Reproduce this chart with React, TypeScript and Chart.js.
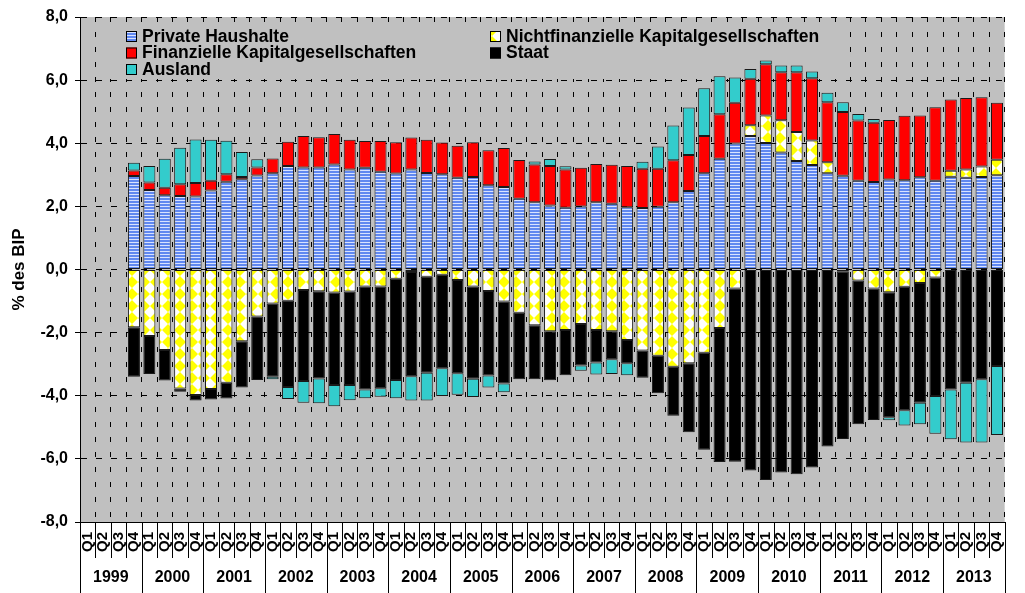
import React, { useEffect, useRef } from 'react';
import { Chart, registerables } from 'chart.js';

Chart.register(...registerables);

const years = ['1999', '2000', '2001', '2002', '2003', '2004', '2005', '2006', '2007', '2008', '2009', '2010', '2011', '2012', '2013'];
const quarters = ['Q1', 'Q2', 'Q3', 'Q4'];
const labels = years.flatMap(() => quarters);

const privateHaushalte = [
  null, null, null, 2.96,
  2.52, 2.35, 2.33, 2.31,
  2.50, 2.78, 2.86, 2.98,
  3.05, 3.28, 3.23, 3.23,
  3.33, 3.17, 3.22, 3.10,
  3.04, 3.17, 3.06, 3.02,
  2.91, 2.93, 2.67, 2.61,
  2.24, 2.13, 2.03, 1.96,
  2.00, 2.13, 2.08, 1.97,
  1.95, 1.99, 2.13, 2.49,
  3.05, 3.51, 3.99, 4.23,
  4.01, 3.71, 3.44, 3.31,
  3.05, 2.97, 2.81, 2.77,
  2.85, 2.83, 2.92, 2.81,
  2.94, 2.91, 2.93, 2.99,
];

const nichtfinanzielle = [
  null, null, null, -1.83,
  -2.11, -2.55, -3.77, -3.98,
  -3.79, -3.59, -2.27, -1.49,
  -1.08, -0.99, -0.65, -0.69,
  -0.73, -0.70, -0.54, -0.54,
  -0.29, -0.08, -0.23, -0.17,
  -0.33, -0.54, -0.68, -1.01,
  -1.37, -1.77, -1.96, -1.92,
  -1.73, -1.92, -1.96, -2.23,
  -2.57, -2.73, -3.08, -2.97,
  -2.64, -1.85, -0.60, 0.34,
  0.87, 1.02, 0.92, 0.78,
  0.35, -0.07, -0.35, -0.60,
  -0.72, -0.55, -0.43, -0.25,
  0.19, 0.26, 0.33, 0.49,
];

const finanzielle = [
  null, null, null, 0.18,
  0.24, 0.24, 0.37, 0.43,
  0.31, 0.24, 0.07, 0.25,
  0.47, 0.77, 1.00, 0.96,
  0.96, 0.94, 0.85, 0.97,
  0.99, 1.01, 1.05, 1.00,
  1.01, 1.10, 1.11, 1.24,
  1.23, 1.20, 1.25, 1.21,
  1.22, 1.21, 1.24, 1.31,
  1.24, 1.20, 1.33, 1.14,
  1.18, 1.41, 1.29, 1.47,
  1.62, 1.52, 1.89, 1.97,
  1.90, 2.02, 1.91, 1.88,
  1.89, 2.04, 1.96, 2.33,
  2.26, 2.26, 2.20, 1.80,
];

const staat = [
  null, null, null, -1.57,
  -1.20, -0.97, -0.10, -0.17,
  -0.33, -0.50, -1.47, -2.01,
  -2.32, -2.73, -2.88, -2.76,
  -2.93, -2.96, -3.26, -3.22,
  -3.21, -3.30, -3.04, -2.96,
  -2.96, -2.92, -2.68, -2.60,
  -2.11, -1.71, -1.55, -1.43,
  -1.31, -1.03, -0.88, -0.74,
  -0.86, -1.19, -1.55, -2.19,
  -3.07, -4.25, -5.49, -6.37,
  -6.67, -6.43, -6.49, -6.27,
  -5.61, -5.30, -4.55, -4.17,
  -3.96, -3.91, -3.79, -3.76,
  -3.80, -3.59, -3.48, -3.06,
];

const ausland = [
  null, null, null, 0.24,
  0.52, 0.92, 1.16, 1.38,
  1.30, 1.06, 0.79, 0.26,
  -0.08, -0.38, -0.69, -0.79,
  -0.67, -0.48, -0.28, -0.27,
  -0.58, -0.77, -0.88, -0.88,
  -0.68, -0.58, -0.38, -0.28,
  0, 0.09, 0.22, 0.10,
  -0.17, -0.38, -0.47, -0.38,
  0.22, 0.71, 1.10, 1.50,
  1.51, 1.20, 0.80, 0.31,
  0.12, 0.21, 0.21, 0.21,
  0.30, 0.31, 0.21, 0.12,
  -0.10, -0.48, -0.68, -1.19,
  -1.58, -1.89, -2.00, -2.18,
];

const yTickValues = [-8, -6, -4, -2, 0, 2, 4, 6, 8];

const FONT = '"Liberation Sans", Arial, Helvetica, sans-serif';

function makeStripePattern(): CanvasPattern | string {
  const c = document.createElement('canvas');
  c.width = 4;
  c.height = 3;
  const g = c.getContext('2d');
  if (!g) return '#6A8CF0';
  g.fillStyle = '#6088F0';
  g.fillRect(0, 0, 4, 2);
  g.fillStyle = '#D8E2FF';
  g.fillRect(0, 2, 4, 1);
  return g.createPattern(c, 'repeat') || '#6A8CF0';
}

function makeZigzagPattern(): CanvasPattern | string {
  const c = document.createElement('canvas');
  c.width = 12;
  c.height = 12;
  const g = c.getContext('2d');
  if (!g) return '#FFFF00';
  g.fillStyle = '#FFFFFF';
  g.fillRect(0, 0, 12, 12);
  g.fillStyle = '#FFFF00';
  g.beginPath();
  g.moveTo(0, 0); g.lineTo(6, 6); g.lineTo(0, 12); g.closePath();
  g.moveTo(12, 0); g.lineTo(6, 6); g.lineTo(12, 12); g.closePath();
  g.fill();
  return g.createPattern(c, 'repeat') || '#FFFF00';
}

export default function App() {
  const canvasRef = useRef<HTMLCanvasElement | null>(null);

  useEffect(() => {
    const canvas = canvasRef.current;
    if (!canvas) return;
    const stripe = makeStripePattern();
    const zigzag = makeZigzagPattern();

    const legendEntries = [
      { text: 'Private Haushalte', fill: stripe, col: 0, row: 0 },
      { text: 'Nichtfinanzielle Kapitalgesellschaften', fill: zigzag, col: 1, row: 0 },
      { text: 'Finanzielle Kapitalgesellschaften', fill: '#FF0000', col: 0, row: 1 },
      { text: 'Staat', fill: '#000000', col: 1, row: 1 },
      { text: 'Ausland', fill: '#33CCCC', col: 0, row: 2 },
    ];

    const decorPlugin = {
      id: 'decor',
      beforeDraw(chart: any) {
        const { ctx, chartArea: a } = chart;
        ctx.save();
        ctx.fillStyle = '#C0C0C0';
        ctx.fillRect(a.left, a.top, a.right - a.left, a.bottom - a.top);
        ctx.restore();
      },
      beforeDatasetsDraw(chart: any) {
        const { ctx } = chart;
        ctx.save();
        ctx.fillStyle = '#C0C0C0';
        ctx.fillRect(97, 23, 740, 56);
        const colX = [126, 490];
        const rowY = [31, 47.5, 64];
        ctx.font = `bold 17.5px ${FONT}`;
        ctx.textBaseline = 'middle';
        ctx.textAlign = 'left';
        legendEntries.forEach((e) => {
          const x = colX[e.col];
          const y = rowY[e.row];
          ctx.fillStyle = e.fill as any;
          ctx.fillRect(x, y, 11, 11);
          ctx.strokeStyle = '#000';
          ctx.lineWidth = 1;
          ctx.strokeRect(x + 0.5, y + 0.5, 10, 10);
          ctx.fillStyle = '#000';
          ctx.fillText(e.text, x + 16, y + 6);
        });
        ctx.restore();
      },
      afterDraw(chart: any) {
        const { ctx, chartArea: a } = chart;
        const xs = chart.scales.x;
        const n = labels.length;
        const w = (a.right - a.left) / n;
        ctx.save();
        ctx.strokeStyle = '#000';
        ctx.lineWidth = 1;
        for (let i = 0; i <= n; i++) {
          const x = Math.round(a.left + i * w) + 0.5;
          ctx.beginPath();
          ctx.moveTo(x, a.bottom);
          ctx.lineTo(x, i % 4 === 0 ? 593 : 558);
          ctx.stroke();
        }
        ctx.fillStyle = '#000';
        ctx.font = `bold 16px ${FONT}`;
        ctx.textAlign = 'center';
        ctx.textBaseline = 'middle';
        years.forEach((yr, k) => {
          const x0 = xs.getPixelForValue(k * 4);
          const x1 = xs.getPixelForValue(k * 4 + 3);
          ctx.fillText(yr, (x0 + x1) / 2, 578);
        });
        ctx.restore();
      },
    };

    const common = {
      borderColor: '#1A1A1A',
      borderWidth: 1,
      borderSkipped: false,
      categoryPercentage: 1,
      barPercentage: 0.78,
    };

    const chart = new Chart(canvas, {
      type: 'bar',
      data: {
        labels,
        datasets: [
          { label: 'Private Haushalte', data: privateHaushalte, backgroundColor: stripe as any, ...common },
          { label: 'Nichtfinanzielle Kapitalgesellschaften', data: nichtfinanzielle, backgroundColor: zigzag as any, ...common },
          { label: 'Finanzielle Kapitalgesellschaften', data: finanzielle, backgroundColor: '#FF0000', ...common },
          { label: 'Staat', data: staat, backgroundColor: '#000000', ...common },
          { label: 'Ausland', data: ausland, backgroundColor: '#33CCCC', ...common },
        ],
      },
      options: {
        responsive: false,
        animation: false,
        layout: { padding: { top: 17, right: 1, left: 0, bottom: 0 } },
        plugins: {
          legend: { display: false },
          tooltip: { enabled: false },
        },
        scales: {
          x: {
            stacked: true,
            offset: true,
            grid: {
              display: true,
              offset: true,
              color: '#000',
              lineWidth: 1,
              drawTicks: false,
            },
            border: { display: true, color: '#000', width: 1, dash: [5, 10] },
            ticks: {
              autoSkip: false,
              minRotation: 90,
              maxRotation: 90,
              padding: 10,
              color: '#000',
              font: { family: FONT, size: 15, weight: 'bold' },
            },
            afterFit: (scale: any) => { scale.height = 71; },
          },
          y: {
            stacked: true,
            min: -8,
            max: 8,
            afterBuildTicks: (scale: any) => { scale.ticks = yTickValues.map((v) => ({ value: v })); },
            grid: {
              color: '#000',
              lineWidth: 1,
              drawTicks: true,
              tickLength: 5,
            },
            border: { display: true, color: '#000', width: 1, dash: [6, 9] },
            ticks: {
              padding: 7,
              color: '#000',
              font: { family: FONT, size: 16, weight: 'bold' },
              callback: (v: any) => Number(v).toFixed(1).replace('.', ','),
            },
            title: {
              display: true,
              text: '% des BIP',
              color: '#000',
              padding: { top: 9, bottom: 0 },
              font: { family: FONT, size: 17, weight: 'bold' },
            },
            afterFit: (scale: any) => { scale.width = 80; },
          },
        },
      },
      plugins: [decorPlugin],
    });

    return () => chart.destroy();
  }, []);

  return (
    <div style={{ position: 'absolute', left: 0, top: 0, width: 1025, height: 593, background: '#fff' }}>
      <canvas ref={canvasRef} width={1025} height={593} />
    </div>
  );
}
